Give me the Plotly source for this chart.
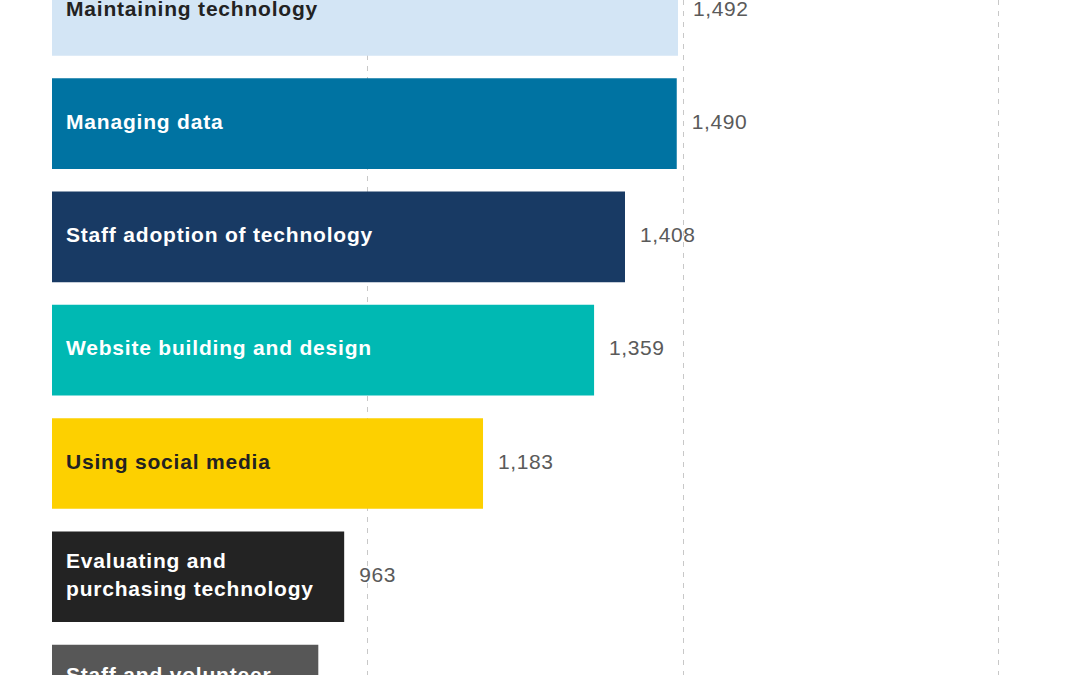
import plotly.graph_objects as go

categories = [
    "Maintaining technology",
    "Managing data",
    "Staff adoption of technology",
    "Website building and design",
    "Using social media",
    "Evaluating and purchasing technology",
    "Staff and volunteer training",
]
label_lines = [
    ["Maintaining technology"],
    ["Managing data"],
    ["Staff adoption of technology"],
    ["Website building and design"],
    ["Using social media"],
    ["Evaluating and", "purchasing technology"],
    ["Staff and volunteer", "training"],
]
values = [1492, 1490, 1408, 1359, 1183, 963, 922]
bar_colors = ["#d3e5f5", "#0073a2", "#183a64", "#00b9b3", "#fdd000", "#232323", "#575757"]
label_colors = ["#222222", "#ffffff", "#ffffff", "#ffffff", "#222222", "#ffffff", "#ffffff"]
grid_ticks = [1000, 1500, 2000]
axis_start = 500

FONT = "Liberation Sans, Arial, Helvetica, sans-serif"


def spaced(s, ls):
    return f"<span style='letter-spacing:{ls}px'>{s}</span>"


inside_text = ["<br>".join("<b>" + spaced(l, 0.8) + "</b>" for l in lines) for lines in label_lines]
value_text = [spaced(f"{v:,}", 0.6) for v in values]

fig = go.Figure()
fig.add_trace(go.Bar(
    x=values, y=categories, orientation="h", base=0,
    marker=dict(color=bar_colors, line=dict(width=0)),
    width=0.8, hoverinfo="skip",
))
# inside labels (invisible marker used to give a fixed pixel offset)
fig.add_trace(go.Scatter(
    x=[axis_start] * len(categories), y=categories, mode="markers+text",
    text=inside_text, textposition="middle right",
    marker=dict(size=20.8, color="rgba(0,0,0,0)"),
    textfont=dict(family=FONT, size=21, color=label_colors),
    hoverinfo="skip", cliponaxis=True,
))
# value labels
fig.add_trace(go.Scatter(
    x=values, y=categories, mode="markers+text",
    text=value_text, textposition="middle right",
    marker=dict(size=22.4, color="rgba(0,0,0,0)"),
    textfont=dict(family=FONT, size=21, color="#5a5a5a"),
    hoverinfo="skip", cliponaxis=True,
))

fig.update_layout(
    width=1080, height=675,
    margin=dict(l=52, r=0, t=0, b=0),
    paper_bgcolor="white", plot_bgcolor="white",
    showlegend=False, hovermode=False,
    xaxis=dict(
        range=[axis_start, 2129], tickvals=grid_ticks, showticklabels=False,
        showgrid=True, gridcolor="#c8c8c8", gridwidth=1, griddash="5px,6px",
        zeroline=False, showline=False, ticks="",
    ),
    yaxis=dict(
        type="category", categoryorder="array", categoryarray=categories,
        range=[5.867, -0.091], showticklabels=False, showgrid=False,
        zeroline=False, showline=False, ticks="",
    ),
)

fig.write_html(
    "out.html",
    config={"displayModeBar": False, "staticPlot": True},
    post_script="document.body.style.margin='0';document.body.style.overflow='hidden';",
)
